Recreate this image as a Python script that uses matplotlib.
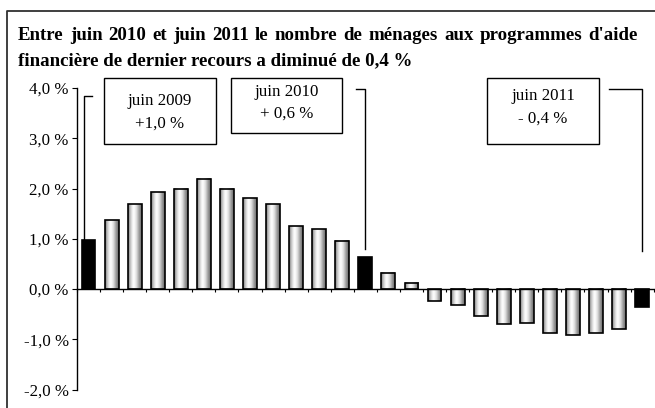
import numpy as np
import matplotlib
matplotlib.use('Agg')
import matplotlib.pyplot as plt
from matplotlib.patches import Rectangle
from matplotlib.lines import Line2D

# ---- data ----
values = [0.97, 1.37, 1.69, 1.93, 2.00, 2.19, 2.00, 1.81, 1.69, 1.25, 1.19, 0.96,
          0.64, 0.32, 0.12, -0.23, -0.32, -0.53, -0.70, -0.67, -0.88, -0.91,
          -0.88, -0.80, -0.35]
highlight = [0, 12, 24]
yticks = [-2, -1, 0, 1, 2, 3, 4]
ytick_labels = ['-2,0 %', '-1,0 %', '0,0 %', '1,0 %', '2,0 %', '3,0 %', '4,0 %']
title_lines = ["Entre juin 2010 et juin 2011 le nombre de ménages aux programmes d'aide",
               "financière de dernier recours a diminué de 0,4 %"]
annot_titles = ["juin 2009", "juin 2010", "juin 2011"]
annot_values = ["+1,0 %", "+ 0,6 %", "- 0,4 %"]

W, H, DPI = 655, 408, 100
SERIF = 'Liberation Serif'

def fx(px):
    return px / W

def fy(py):
    return 1 - py / H

fig = plt.figure(figsize=(W / DPI, H / DPI), dpi=DPI)
fig.patch.set_facecolor('white')

ax_left, ax_right, ax_top, ax_bot = 77, 653.7, 88, 389.5
ax = fig.add_axes([fx(ax_left), fy(ax_bot), (ax_right - ax_left) / W, (ax_bot - ax_top) / H])
ax.patch.set_alpha(0)

x = np.arange(len(values))
bw = 0.6
# gradient profile for cylinder-like bars
pos = [0.0, 0.12, 0.3, 0.42, 0.6, 0.8, 1.0]
vals = [0.45, 0.7, 0.93, 1.0, 0.88, 0.62, 0.4]
cols = np.interp(np.linspace(0, 1, 40), pos, vals)
grad = np.tile(cols, (2, 1))

bars = ax.bar(x, values, width=bw, color='none', edgecolor='black', linewidth=1.2, zorder=3)
for i, (b, v) in enumerate(zip(bars, values)):
    if i in highlight:
        b.set_facecolor('black')
    else:
        ax.imshow(grad, extent=[i - bw / 2, i + bw / 2, min(0, v), max(0, v)],
                  aspect='auto', cmap='gray', vmin=0, vmax=1, zorder=2,
                  interpolation='bilinear', origin='lower')

ax.set_xlim(-0.5, len(values) - 0.5)
ax.set_ylim(-2, 4)

for s in ['top', 'right']:
    ax.spines[s].set_visible(False)
ax.spines['bottom'].set_position(('data', 0))
ax.spines['bottom'].set_linewidth(1.0)
ax.spines['left'].set_linewidth(1.0)
ax.spines['left'].set_bounds(-2, 4)

ax.set_xticks(np.arange(-0.5, len(values), 1))
ax.set_xticklabels([])
ax.tick_params(axis='x', direction='out', length=2.5, width=0.8)
ax.set_yticks(yticks)
ax.set_yticklabels(ytick_labels, fontfamily=SERIF, fontsize=12.2)
ax.tick_params(axis='y', direction='out', length=3.5, width=0.8, pad=2.5)

# ---- connectors from boxes to highlighted bars ----
def px2data(px, py):
    dx = (px - ax_left) / (ax_right - ax_left) * len(values) - 0.5
    dy = 4 - (py - ax_top) / (ax_bot - ax_top) * 6
    return dx, dy

# box 1 -> bar 0
xa, ya = px2data(92, 96)
xb, _ = px2data(84, 96)
ax.add_line(Line2D([xa, xb, xb], [ya, ya, values[highlight[0]]], color='black', lw=1.0,
                   clip_on=False, zorder=2.5))
# box 2 -> bar 12
xa, ya = px2data(356, 88.7)
_, yb = px2data(0, 249)
xi = highlight[1]
ax.add_line(Line2D([xa, xi, xi], [ya, ya, yb], color='black', lw=1.0, clip_on=False))
# box 3 -> bar 24
xa, ya = px2data(609.3, 89)
_, yb = px2data(0, 250.7)
xi = highlight[2]
ax.add_line(Line2D([xa, xi, xi], [ya, ya, yb], color='black', lw=1.0, clip_on=False))

# ---- annotation boxes ----
boxes = [(104, 216, 78, 144, 101, 124), (231, 342, 78, 133, 92, 113.5),
         (487, 599, 78, 144, 96.5, 118.5)]
for (l, r, t, btm, y1, y2), t1, t2 in zip(boxes, annot_titles, annot_values):
    fig.patches.append(Rectangle((fx(l), fy(btm)), (r - l) / W, (btm - t) / H,
                                 transform=fig.transFigure, facecolor='white',
                                 edgecolor='black', linewidth=1.0))
    cx = (l + r) / 2
    fig.text(fx(cx), fy(y1), t1, ha='center', va='center', fontfamily=SERIF, fontsize=12.2)
    fig.text(fx(cx), fy(y2), t2, ha='center', va='center', fontfamily=SERIF, fontsize=12.2)

# ---- frame ----
fig.add_artist(Line2D([fx(6.7), fx(6.7), fx(660)], [fy(420), fy(10.5), fy(10.5)],
                      transform=fig.transFigure, color='#303030', lw=1.3))

# ---- title (first line justified) ----
renderer = fig.canvas.get_renderer()
tsize = 13.6
x_l, x_r = 18, 638
words = title_lines[0].split(' ')
tmp = [fig.text(0, 0, w, fontfamily=SERIF, fontweight='bold', fontsize=tsize) for w in words]
widths = [t.get_window_extent(renderer).width for t in tmp]
for t in tmp:
    t.remove()
gap = (x_r - x_l - sum(widths)) / (len(words) - 1)
cur = x_l
for w, wd in zip(words, widths):
    fig.text(fx(cur), fy(39.5), w, ha='left', va='baseline', fontfamily=SERIF,
             fontweight='bold', fontsize=tsize)
    cur += wd + gap
fig.text(fx(x_l), fy(65), title_lines[1], ha='left', va='baseline', fontfamily=SERIF,
         fontweight='bold', fontsize=tsize)

fig.savefig('out.png', dpi=DPI, facecolor='white')
